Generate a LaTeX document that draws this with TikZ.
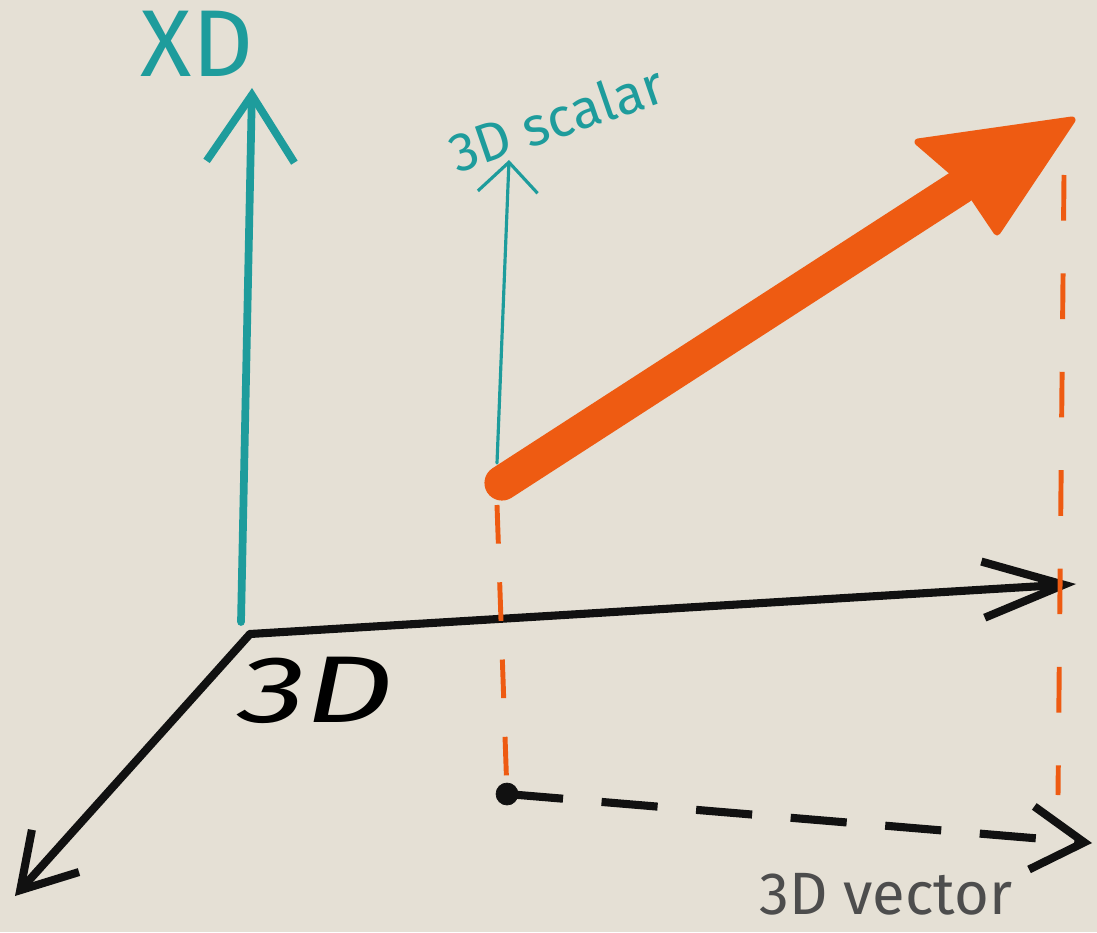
\documentclass[tikz,border=0pt]{standalone}
\usepackage{fontspec}
\setmainfont{Fira Sans}
\usepackage{tikz}
\usetikzlibrary{arrows.meta, positioning, calc}
\definecolor{Sketch_Teal}{HTML}{1E9C9C}
\definecolor{Sketch_Orange}{HTML}{EE5B12}
\definecolor{Sketch_Beige}{HTML}{E5E0D5}
\definecolor{Sketch_Ink}{HTML}{111111}
\definecolor{Sketch_Pencil}{HTML}{4D4D4D}

\tikzset{
    axisline/.style={line width=4.6pt, Sketch_Ink, line cap=round},
    guideline/.style={line width=2.8pt, Sketch_Orange, dash pattern=on 22pt off 22pt},
    sketchlabel/.style={inner sep=0pt, anchor=center},
}

\begin{document}
\begin{tikzpicture}[x=0.02cm, y=-0.02cm]
    % Paper
    \fill[Sketch_Beige] (0,0) rectangle (1097,932);
    \useasboundingbox (0,0) rectangle (1097,932);

    % Key points
    \coordinate (origin) at (250,634);
    \coordinate (xEnd) at (1076,584);
    \coordinate (yEnd) at (15,896);
    \coordinate (xdBase) at (241,622);
    \coordinate (xdTip) at (252,88);
    \coordinate (vecTail) at (502,483);
    \coordinate (shaftEnd) at (960,187);
    \coordinate (scalarTip) at (509,160);
    \coordinate (footL) at (507,794);
    \coordinate (footR) at (1092,843);
    \coordinate (dropR) at (1064,175);
    \coordinate (dropRend) at (1058,795);

    % Extra dimension axis
    \draw[line width=4.4pt, Sketch_Teal, line cap=round,
          -{Straight Barb[length=38pt, width=50pt]}] (xdBase) -- (xdTip);
    \node[sketchlabel, Sketch_Teal, font=\fontsize{54}{60}\selectfont] (xdLabel) at (197,44) {XD};

    % Base 3D axes
    \draw[axisline, -{Straight Barb[length=46pt, width=32pt]}] (origin) -- (xEnd);
    \draw[axisline, -{Straight Barb[length=30pt, width=36pt]}] (origin) -- (yEnd);
    \node[sketchlabel, font=\fontsize{54}{60}\selectfont\itshape, xscale=1.45] (baseLabel) at (316,690) {3D};

    % Orange drop lines
    \draw[guideline] ($(vecTail)+(-5,22)$) -- (footL);
    \draw[guideline, dash pattern=on 26pt off 30pt] (dropR) -- (dropRend);

    % Scalar part
    \draw[line width=1.8pt, Sketch_Teal, line cap=round,
          -{Straight Barb[length=17pt, width=34pt]}] ($(vecTail)+(-5,-20)$) -- (scalarTip);
    \node[sketchlabel, Sketch_Teal, font=\fontsize{31}{36}\selectfont, rotate=19] (scalarLabel) at (556,118) {3D scalar};

    % Full vector
    \draw[line width=20pt, Sketch_Orange, line cap=round] (vecTail) -- (shaftEnd);
    \filldraw[Sketch_Orange, line width=4pt, line join=round]
        (918,142) -- (1072,120) -- (997,232) -- (962,180) -- cycle;

    % Projected vector
    \filldraw[Sketch_Ink] (footL) circle (11);
    \draw[axisline, line cap=butt, dash pattern=on 32pt off 22pt,
          -{Straight Barb[length=30pt, width=36pt]}] (footL) -- (footR);
    \node[sketchlabel, Sketch_Pencil, font=\fontsize{34}{40}\selectfont] (vecLabel) at (886,894) {3D vector};
\end{tikzpicture}
\end{document}
